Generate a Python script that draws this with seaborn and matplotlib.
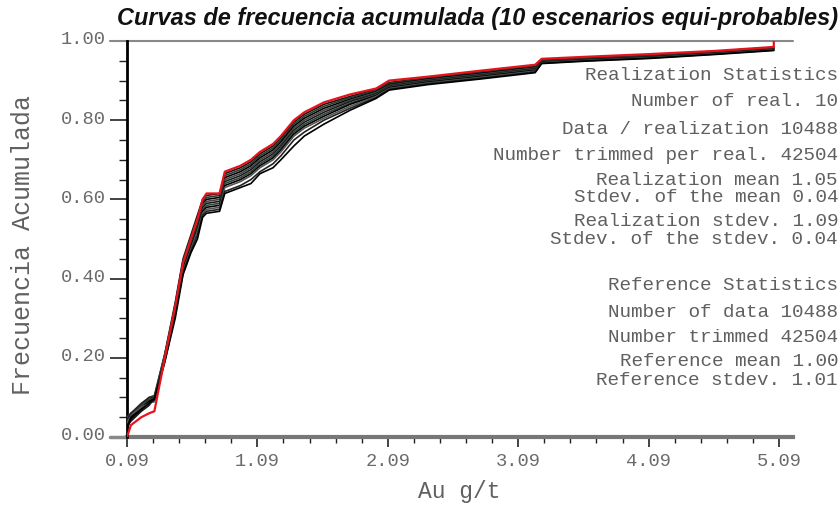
import numpy as np
import pandas as pd
import matplotlib
matplotlib.use("Agg")
import matplotlib.pyplot as plt
from matplotlib.lines import Line2D
from matplotlib.transforms import ScaledTranslation
import seaborn as sns

# ---------------- data ----------------
grade = [0.09, 0.12, 0.20, 0.26, 0.30, 0.38, 0.46, 0.52, 0.58, 0.63, 0.67, 0.70,
         0.80, 0.84, 0.96, 1.04, 1.11, 1.21, 1.27, 1.37, 1.45, 1.60, 1.80, 2.00,
         2.10, 2.40, 2.80, 3.22, 3.27, 3.60, 4.10, 4.60, 5.05, 5.05]

reference = [0.00, 0.03, 0.05, 0.06, 0.065, 0.20, 0.33, 0.44, 0.50, 0.55, 0.60, 0.615,
             0.615, 0.67, 0.685, 0.70, 0.72, 0.74, 0.76, 0.80, 0.82, 0.845, 0.865, 0.88,
             0.90, 0.91, 0.925, 0.94, 0.955, 0.96, 0.967, 0.975, 0.985, 1.00]

real_1 = [0.03, 0.05, 0.07, 0.09, 0.10, 0.21, 0.34, 0.45, 0.51, 0.56, 0.60, 0.61, 0.615, 0.665, 0.68, 0.695, 0.715, 0.735, 0.755, 0.795, 0.815, 0.84, 0.86, 0.878, 0.895, 0.908, 0.922, 0.938, 0.952, 0.958, 0.965, 0.974, 0.984, 0.984]
real_2 = [0.04, 0.06, 0.08, 0.095, 0.10, 0.20, 0.335, 0.445, 0.505, 0.55, 0.595, 0.605, 0.61, 0.66, 0.675, 0.69, 0.71, 0.73, 0.75, 0.79, 0.81, 0.835, 0.857, 0.875, 0.893, 0.906, 0.92, 0.936, 0.951, 0.957, 0.964, 0.973, 0.983, 0.983]
real_3 = [0.02, 0.05, 0.075, 0.09, 0.095, 0.205, 0.33, 0.44, 0.50, 0.545, 0.59, 0.60, 0.605, 0.655, 0.67, 0.685, 0.705, 0.725, 0.745, 0.785, 0.805, 0.83, 0.853, 0.872, 0.89, 0.904, 0.918, 0.934, 0.95, 0.956, 0.963, 0.972, 0.982, 0.982]
real_4 = [0.05, 0.06, 0.07, 0.085, 0.09, 0.195, 0.325, 0.435, 0.495, 0.54, 0.585, 0.595, 0.60, 0.65, 0.665, 0.68, 0.70, 0.72, 0.74, 0.78, 0.80, 0.825, 0.85, 0.87, 0.888, 0.902, 0.916, 0.932, 0.949, 0.955, 0.962, 0.971, 0.981, 0.981]
real_5 = [0.03, 0.04, 0.065, 0.08, 0.10, 0.20, 0.32, 0.43, 0.49, 0.535, 0.58, 0.59, 0.595, 0.645, 0.66, 0.675, 0.695, 0.715, 0.735, 0.775, 0.795, 0.82, 0.847, 0.867, 0.886, 0.90, 0.914, 0.93, 0.948, 0.954, 0.961, 0.97, 0.98, 0.98]
real_6 = [0.04, 0.05, 0.08, 0.10, 0.105, 0.21, 0.33, 0.43, 0.485, 0.53, 0.575, 0.585, 0.59, 0.64, 0.655, 0.67, 0.69, 0.71, 0.73, 0.77, 0.79, 0.815, 0.843, 0.864, 0.884, 0.898, 0.912, 0.928, 0.947, 0.953, 0.96, 0.97, 0.98, 0.98]
real_7 = [0.02, 0.045, 0.07, 0.09, 0.095, 0.195, 0.315, 0.425, 0.48, 0.525, 0.57, 0.58, 0.585, 0.635, 0.65, 0.665, 0.685, 0.705, 0.725, 0.765, 0.785, 0.81, 0.84, 0.862, 0.882, 0.896, 0.91, 0.926, 0.946, 0.952, 0.959, 0.969, 0.979, 0.979]
real_8 = [0.035, 0.055, 0.075, 0.085, 0.09, 0.19, 0.31, 0.42, 0.475, 0.52, 0.565, 0.575, 0.58, 0.63, 0.645, 0.66, 0.68, 0.70, 0.72, 0.76, 0.78, 0.805, 0.835, 0.86, 0.88, 0.894, 0.908, 0.924, 0.945, 0.951, 0.958, 0.968, 0.978, 0.978]
real_9 = [0.045, 0.06, 0.085, 0.10, 0.10, 0.20, 0.31, 0.415, 0.47, 0.51, 0.56, 0.57, 0.575, 0.62, 0.635, 0.65, 0.67, 0.69, 0.71, 0.75, 0.77, 0.80, 0.83, 0.857, 0.878, 0.892, 0.906, 0.922, 0.944, 0.95, 0.957, 0.967, 0.977, 0.977]
real_10 = [0.025, 0.05, 0.07, 0.085, 0.095, 0.19, 0.30, 0.41, 0.465, 0.50, 0.555, 0.565, 0.57, 0.615, 0.63, 0.64, 0.665, 0.68, 0.70, 0.735, 0.76, 0.79, 0.825, 0.855, 0.876, 0.89, 0.904, 0.92, 0.943, 0.949, 0.956, 0.966, 0.976, 0.976]

x_ticks = [0.09, 1.09, 2.09, 3.09, 4.09, 5.09]
y_ticks = [0.0, 0.2, 0.4, 0.6, 0.8, 1.0]

title = "Curvas de frecuencia acumulada (10 escenarios equi-probables)"
stats_lines = [
    ("Realization Statistics", 76),
    ("Number of real. 10", 102),
    ("Data / realization 10488", 129),
    ("Number trimmed per real. 42504", 156),
    ("Realization mean 1.05", 181),
    ("Stdev. of the mean 0.04", 198),
    ("Realization stdev. 1.09", 222),
    ("Stdev. of the stdev. 0.04", 240),
    ("Reference Statistics", 286),
    ("Number of data 10488", 313),
    ("Number trimmed 42504", 337),
    ("Reference mean 1.00", 362),
    ("Reference stdev. 1.01", 381),
]

# ---------------- build long table ----------------
reals = [real_1, real_2, real_3, real_4, real_5, real_6, real_7, real_8, real_9, real_10]
frames = []
for i, r in enumerate(reals):
    frames.append(pd.DataFrame({"x": grade, "y": r, "serie": f"R{i+1}"}))
frames.append(pd.DataFrame({"x": grade, "y": reference, "serie": "Ref"}))
df = pd.concat(frames, ignore_index=True)

palette = {"R1": "#111111", "R2": "#2b3b2f", "R3": "#000000", "R4": "#444444",
           "R5": "#1a1a1a", "R6": "#2f4536", "R7": "#000000", "R8": "#555555",
           "R9": "#222222", "R10": "#000000", "Ref": "#e8121c"}

sns.set_style("white")
plt.rcParams["font.family"] = ["Liberation Mono", "DejaVu Sans Mono"]

W, H = 840, 506
fig = plt.figure(figsize=(W / 100, H / 100), dpi=100)
ax = fig.add_axes([127 / W, 1 - 438 / H, (793 - 127) / W, (438 - 42) / H])

for s in [f"R{i}" for i in range(1, 11)] + ["Ref"]:
    sub = df[df.serie == s]
    sns.lineplot(data=sub, x="x", y="y", color=palette[s], estimator=None, sort=False,
                 lw=1.6 if s == "Ref" else 1.2, ax=ax, legend=False,
                 zorder=5 if s == "Ref" else 3)

x_max = 0.09 + (793 - 127) / ((779 - 127) / 5.0)
ax.set_xlim(0.09, x_max)
ax.set_ylim(0, 1.0)
ax.set_xticks(x_ticks)
ax.set_xticklabels([f"{v:.2f}" for v in x_ticks])
ax.set_xticks(np.arange(0.29, 5.2, 0.2), minor=True)
ax.set_yticks(y_ticks)
ax.set_yticklabels([f"{v:.2f}" for v in y_ticks])
ax.set_yticks(np.arange(0.05, 1.0, 0.05), minor=True)

ax.tick_params(axis="both", which="major", direction="out", length=12, width=1.2,
               color="#222222", labelsize=13.5, labelcolor="#6a6a6a",
               bottom=True, left=True)
ax.tick_params(axis="y", which="major", pad=3.5)
ax.tick_params(axis="y", which="minor", direction="out", length=6, width=1.0,
               color="#222222", left=True)
ax.tick_params(axis="x", which="major", length=7, pad=4)
ax.tick_params(axis="x", which="minor", direction="out", length=4, width=1.0,
               color="#222222", bottom=True)

up = ScaledTranslation(0, 4 / 100, fig.dpi_scale_trans)
for lab in ax.get_yticklabels():
    lab.set_transform(lab.get_transform() + up)

for sp in ["top", "right"]:
    ax.spines[sp].set_visible(False)
ax.spines["left"].set_color("#000000")
ax.spines["left"].set_linewidth(2.0)
ax.spines["bottom"].set_color("#777777")
ax.spines["bottom"].set_linewidth(3.0)
ax.spines["bottom"].set_zorder(1)

# grey reference lines at 0 and 1 extending left of the axis
ax.add_line(Line2D([-0.026, 1.0], [1.0, 1.0], transform=ax.transAxes, color="#888888",
                   lw=1.5, clip_on=False, zorder=2))
ax.add_line(Line2D([-0.026, 0.0], [0.0, 0.0], transform=ax.transAxes, color="#888888",
                   lw=2.5, clip_on=False, zorder=2))

ax.set_xlabel("Au g/t", fontsize=16.5, color="#606060")
ax.xaxis.set_label_coords((459 - 127) / 666, -(492 - 438) / 396)
ax.xaxis.label.set_va("center")
ax.set_ylabel("Frecuencia Acumulada", fontsize=18, color="#606060")
ax.yaxis.set_label_coords((23 - 127) / 666, (438 - 245) / 396)
ax.yaxis.label.set_va("center")

fig.text(478 / W, 1 - 19 / H, title, ha="center", va="center", fontsize=16.9,
         fontweight="bold", fontstyle="italic", family="Liberation Sans", color="#111111")

for txt, ypx in stats_lines:
    fig.text(838 / W, 1 - ypx / H, txt, ha="right", va="center",
             fontsize=13.9, color="#606060")

fig.savefig("out.png", dpi=100, facecolor="white")
